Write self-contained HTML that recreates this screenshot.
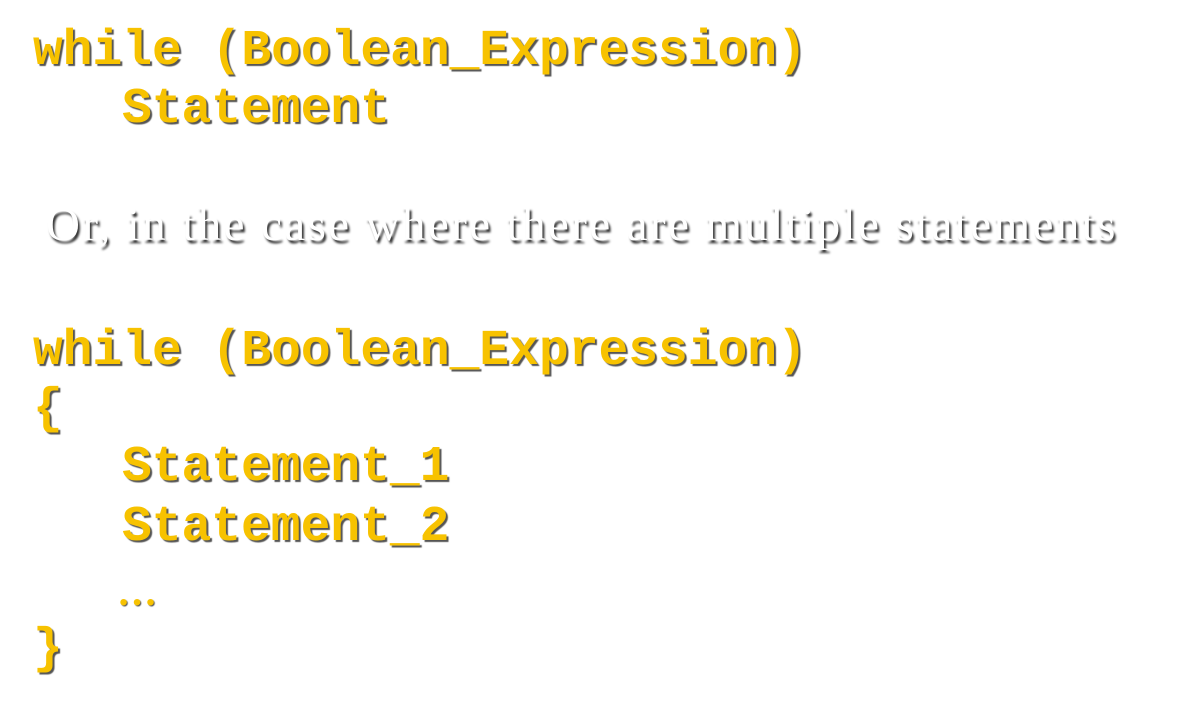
<!DOCTYPE html>
<html><head><meta charset="utf-8"><style>
html,body{margin:0;padding:0;background:#fff;width:1191px;height:712px;overflow:hidden;position:relative}
.m{position:absolute;font-family:"Liberation Mono",monospace;font-weight:bold;font-size:49.6px;line-height:60px;color:#F7C200;white-space:pre;text-shadow:2px 2px 1px #555}
.s{position:absolute;left:46px;top:200px;font-family:"Liberation Serif",serif;font-size:47px;line-height:50px;letter-spacing:2.4px;color:#fff;white-space:pre;text-shadow:2px 3px 2px #333}
.d{position:absolute;left:117px;top:572px;font-family:"Liberation Serif",serif;font-weight:bold;font-size:40px;line-height:40px;color:#F7C200;text-shadow:1px 1px 1px #555}
</style></head><body>
<div class="m" style="left:33px;top:21px">while (Boolean_Expression)</div>
<div class="m" style="left:122px;top:79px">Statement</div>
<div class="s">Or, in the case where there are multiple statements</div>
<div class="m" style="left:33px;top:321px">while (Boolean_Expression)</div>
<div class="m" style="left:33px;top:379px">{</div>
<div class="m" style="left:122px;top:437px">Statement_1</div>
<div class="m" style="left:122px;top:497px">Statement_2</div>
<div class="d">…</div>
<div class="m" style="left:33px;top:619px">}</div>
</body></html>
